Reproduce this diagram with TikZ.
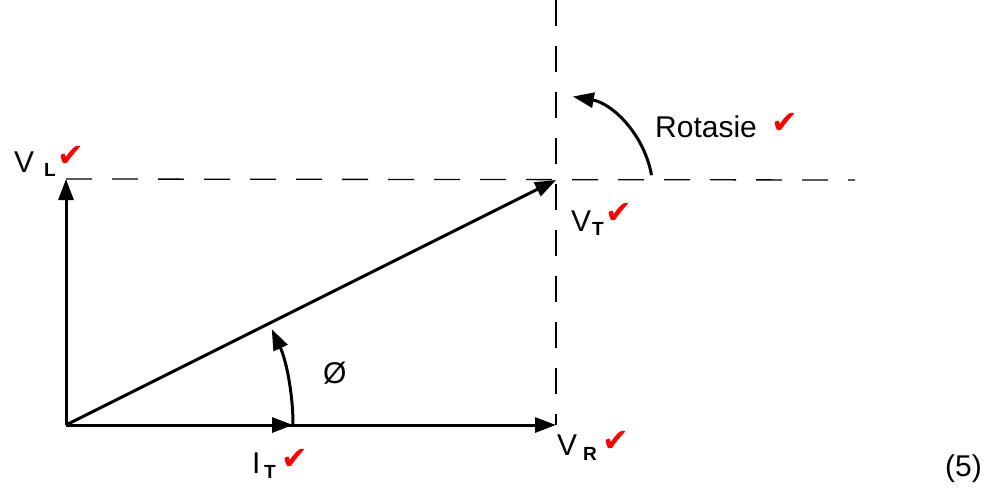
\documentclass[tikz,border=0pt]{standalone}
\usepackage{fontspec}
\setmainfont{Liberation Sans}
\newfontfamily\symfont{DejaVu Sans}
\usetikzlibrary{arrows.meta}
\newcommand{\chk}{{\symfont\color{red}✔}}
\tikzset{
  vec/.style={line width=3pt,-{Triangle[length=21pt,width=15pt]}},
  dsh/.style={line width=1.3pt,dash pattern=on 26pt off 20pt},
  lbl/.style={inner sep=0pt,anchor=base west,font=\fontsize{30}{36}\selectfont},
  sub/.style={inner sep=0pt,anchor=base west,font=\fontsize{19}{22}\selectfont\bfseries},
  ck/.style={inner sep=0pt,anchor=base west,font=\fontsize{32}{36}\selectfont}
}
\begin{document}
\begin{tikzpicture}[x=1pt,y=1pt]
\useasboundingbox (0,0) rectangle (1002,-488);
% points
\coordinate (O) at (66,-425);
\coordinate (VLend) at (66,-179);
\coordinate (VRend) at (556,-425);
\coordinate (VTend) at (556,-180);
\coordinate (Htop) at (855,-180);
\coordinate (Vtop) at (556,0);
\coordinate (A0) at (293,-425);
\coordinate (R0) at (651.5,-175.2);
% dashed axes
\draw[dsh] (VLend) -- (Htop);
\draw[dsh] (Vtop) -- (VRend);
% vectors
\draw[vec] (O) -- (VLend);
\draw[vec] (O) -- (VRend);
\draw[vec] (O) -- (VTend);
\draw[vec] (O) -- (A0);
% angle arc
\draw[vec] (A0) arc[start angle=0,end angle=25,radius=227pt];
% rotation arc
\draw[vec] (R0) arc[start angle=10,end angle=80,radius=97pt];
% labels
\node[lbl] (vl) at (14,-172) {V};
\node[sub] (vls) at (44,-176) {L};
\node[ck] (vlc) at (57,-166) {\chk};
\node[lbl] (vt) at (571,-231) {V};
\node[sub] (vts) at (592,-235) {T};
\node[ck] (vtc) at (605,-223) {\chk};
\node[lbl] (vr) at (557,-455) {V};
\node[sub] (vrs) at (583,-460) {R};
\node[ck] (vrc) at (602,-451) {\chk};
\node[lbl] (it) at (252,-473) {I};
\node[sub] (its) at (264,-478) {T};
\node[ck] (itc) at (281,-469) {\chk};
\node[lbl] (rot) at (655,-137) {Rotasie};
\node[ck] (rotc) at (771,-133) {\chk};
\node[lbl] (phi) at (323,-383) {Ø};
\node[lbl] (five) at (945,-476) {(5)};
\end{tikzpicture}
\end{document}
